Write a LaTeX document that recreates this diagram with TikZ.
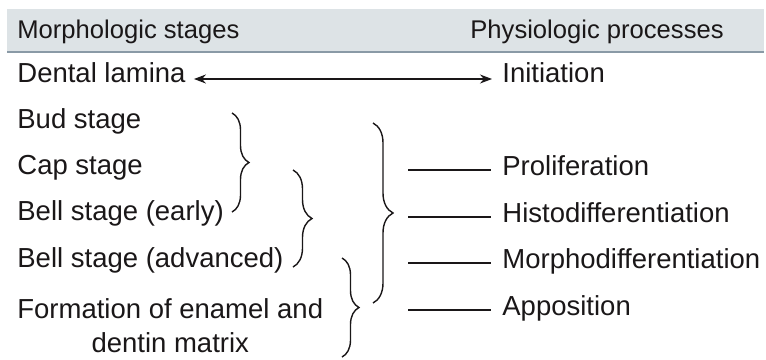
\documentclass[tikz,border=0pt]{standalone}
\usepackage{fontspec}
\setmainfont{Liberation Sans}
\usetikzlibrary{decorations.pathreplacing,arrows.meta}
\definecolor{headfill}{HTML}{DDE3E6}
\definecolor{headrule}{HTML}{8A9AA6}
\definecolor{inkgray}{HTML}{1A1718}
\tikzset{
  stage/.style={anchor=base west,inner sep=0pt,text height=0.72em,text depth=0.21em,font=\fontsize{13.75}{16.5}\selectfont,text=inkgray},
  headtext/.style={stage,font=\fontsize{12.8}{15.5}\selectfont},
  curly/.style={decorate,decoration={brace,amplitude=#1},draw=inkgray,line width=0.7pt},
  tick/.style={draw=inkgray,line width=0.6pt}
}
\begin{document}
\begin{tikzpicture}[x=0.5pt,y=-0.5pt]
\useasboundingbox (0,0) rectangle (766,359);
\fill[headfill] (7,9) rectangle (764,52);
\draw[headrule,line width=0.8pt] (7,52) -- (764,52);
\node[headtext] (morphhead) at (17,38) {Morphologic stages};\node[headtext] (physhead) at (470,38) {Physiologic processes};
\node[stage] (lamina) at (17,82) {Dental lamina};\node[stage] (init) at (502,82) {Initiation};
\draw[<->,>={Stealth[length=6pt,width=4.5pt]},draw=inkgray,line width=0.6pt] ([xshift=4pt,yshift=1.5pt]lamina.base east) -- ([xshift=-5pt,yshift=1.5pt]init.base west);
\node[stage] (bud) at (17,128) {Bud stage};
\node[stage] (cap) at (17,174) {Cap stage};\node[stage] (prolif) at (502,175) {Proliferation};
\node[stage] (early) at (17,220) {Bell stage (early)};\node[stage] (histo) at (502,222) {Histodifferentiation};
\node[stage] (adv) at (17,267) {Bell stage (advanced)};\node[stage] (morpho) at (502,268) {Morphodifferentiation};
\node[stage] (form) at (17,318) {Formation of enamel and};\node[stage] (appos) at (502,315) {Apposition};
\node[stage,anchor=base] (dentin) at ([yshift=-17pt]form.base) {dentin matrix};
\foreach \n in {prolif,histo,morpho,appos}{
  \coordinate (\n-tail) at ([xshift=-47pt]\n.west);
  \draw[tick] (\n-tail) -- ([xshift=-5.5pt]\n.west);
}
\draw[curly=8.5pt] (232,113) -- (232,212);
\draw[curly=9.5pt] (293,170) -- (293,267);
\draw[curly=8.5pt] (342,258) -- (342,357);
\draw[curly=10pt] (373,123) -- (373,303);
\end{tikzpicture}
\end{document}
